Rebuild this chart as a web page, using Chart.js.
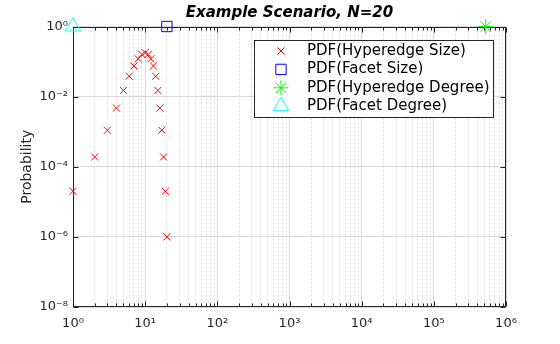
<!DOCTYPE html>
<html>
<head>
<meta charset="utf-8">
<script src="https://cdn.jsdelivr.net/npm/chart.js@4.4.0/dist/chart.umd.min.js"></script>
<style>
  html, body { margin: 0; padding: 0; background: #fff; }
</style>
</head>
<body>
<canvas id="graphe" width="560" height="344"></canvas>
<script>
// --- donnees ---
const sizeX = [1, 2, 3, 4, 5, 6, 7, 8, 9, 10, 11, 12, 13, 14, 15, 16, 17, 18, 19, 20];
const sizePdf = [2.0e-5, 1.9e-4, 1.1e-3, 4.7e-3, 1.5e-2, 3.8e-2, 7.5e-2, 0.12, 0.16, 0.18,
                 0.16, 0.12, 7.5e-2, 3.8e-2, 1.5e-2, 4.7e-3, 1.1e-3, 1.9e-4, 2.0e-5, 1.0e-6];
const facetSizeX = [20];
const facetSizePdf = [1];
const edgeDegreeX = [524288];
const edgeDegreePdf = [1];
const facetDegreeX = [1];
const facetDegreePdf = [1];

const xDecades = [1, 10, 100, 1000, 10000, 100000, 1000000];
const yDecades = [1e-8, 1e-6, 1e-4, 1e-2, 1];

const FONT = "'DejaVu Sans', sans-serif";
const INK = '#262626';

// graduations mineures 2..9 de chaque decade
const xMinor = [];
xDecades.slice(0, -1).forEach(d => {
    for (let m = 2; m <= 9; m++) xMinor.push(m * d);
});
const xAll = xDecades.concat(xMinor).sort((a, b) => a - b);

const sup = { '0': '⁰', '1': '¹', '2': '²', '3': '³', '4': '⁴', '5': '⁵', '6': '⁶', '7': '⁷', '8': '⁸', '9': '⁹', '-': '⁻' };
function powLabel(v) {
    const e = Math.round(Math.log10(v));
    return '10' + String(e).split('').map(c => sup[c]).join('');
}
const pts = (xs, ys) => xs.map((x, i) => ({ x: x, y: ys[i] }));

// cadre, petites graduations interieures et legende facon MATLAB
const cadre = {
    id: 'cadre',
    beforeDatasetsDraw(chart) {
        const { ctx, chartArea: a, scales } = chart;
        const L = Math.round(a.left) + 0.5, R = Math.round(a.right) - 0.5;
        const T = Math.round(a.top) + 0.5, B = Math.round(a.bottom) - 0.5;
        ctx.save();
        ctx.strokeStyle = INK;
        ctx.lineWidth = 1;
        ctx.beginPath();
        xAll.forEach(v => {
            const px = Math.round(scales.x.getPixelForValue(v)) + 0.5;
            const len = xDecades.includes(v) ? 5 : 3;
            ctx.moveTo(px, B); ctx.lineTo(px, B - len);
            ctx.moveTo(px, T); ctx.lineTo(px, T + len);
        });
        yDecades.forEach(v => {
            const py = Math.round(scales.y.getPixelForValue(v)) + 0.5;
            ctx.moveTo(L, py); ctx.lineTo(L + 5, py);
            ctx.moveTo(R, py); ctx.lineTo(R - 5, py);
        });
        ctx.stroke();
        ctx.strokeRect(L, T, R - L, B - T);
        ctx.restore();
    },
    afterDatasetsDraw(chart) {
        const ctx = chart.ctx;
        const bx = 254.5, by = 40.5, bw = 239, bh = 77;
        ctx.save();
        ctx.fillStyle = '#fff';
        ctx.fillRect(bx, by, bw, bh);
        ctx.strokeStyle = INK;
        ctx.lineWidth = 1;
        ctx.strokeRect(bx, by, bw, bh);
        chart.data.datasets.forEach((ds, i) => {
            const y = 51 + i * 18.4;
            ctx.fillStyle = ds.backgroundColor;
            ctx.strokeStyle = ds.borderColor;
            ctx.lineWidth = ds.borderWidth;
            Chart.helpers.drawPoint(ctx, { pointStyle: ds.pointStyle, radius: ds.pointRadius, borderWidth: ds.borderWidth, rotation: 0 }, 281, y);
            ctx.fillStyle = '#000';
            ctx.font = '15px ' + FONT;
            ctx.textBaseline = 'middle';
            ctx.textAlign = 'left';
            ctx.fillText(ds.label, 307, y);
        });
        ctx.restore();
    }
};

new Chart(document.getElementById('graphe'), {
    type: 'scatter',
    data: {
        datasets: [{
            label: 'PDF(Hyperedge Size)',
            data: pts(sizeX, sizePdf),
            pointStyle: 'crossRot',
            pointRadius: 5,
            borderColor: 'rgb(255,0,0)',
            backgroundColor: 'rgba(0,0,0,0)',
            borderWidth: 1,
            clip: false
        }, {
            label: 'PDF(Facet Size)',
            data: pts(facetSizeX, facetSizePdf),
            pointStyle: 'rect',
            pointRadius: 7.3,
            borderColor: 'rgb(0,0,255)',
            backgroundColor: 'rgba(0,0,0,0)',
            borderWidth: 1,
            clip: false
        }, {
            label: 'PDF(Hyperedge Degree)',
            data: pts(edgeDegreeX, edgeDegreePdf),
            pointStyle: 'star',
            pointRadius: 7.5,
            borderColor: 'rgb(0,255,0)',
            backgroundColor: 'rgba(0,0,0,0)',
            borderWidth: 1,
            clip: false
        }, {
            label: 'PDF(Facet Degree)',
            data: pts(facetDegreeX, facetDegreePdf),
            pointStyle: 'triangle',
            pointRadius: 9,
            borderColor: 'rgb(0,255,255)',
            backgroundColor: 'rgba(0,0,0,0)',
            borderWidth: 1,
            clip: false
        }]
    },
    options: {
        responsive: false,
        animation: false,
        devicePixelRatio: 1,
        layout: { padding: { left: 0, right: 54, top: 0, bottom: 0 } },
        plugins: {
            legend: { display: false },
            tooltip: { enabled: false },
            title: {
                display: true,
                text: 'Example Scenario, N=20',
                fullSize: false,
                color: '#000',
                font: { family: FONT, size: 15, weight: 'bold', style: 'italic', lineHeight: 1.1 },
                padding: { top: 5, bottom: 5 }
            }
        },
        scales: {
            x: {
                type: 'logarithmic',
                min: 1,
                max: 1e6,
                afterBuildTicks: s => { s.ticks = xAll.map(v => ({ value: v })); },
                afterFit: s => { s.height = 37; },
                ticks: {
                    autoSkip: false,
                    maxRotation: 0,
                    padding: 9,
                    color: INK,
                    font: { family: FONT, size: 13 },
                    callback: v => xDecades.includes(v) ? powLabel(v) : ''
                },
                grid: {
                    drawTicks: false,
                    color: c => xDecades.includes(c.tick.value) ? '#d9d9d9' : 'rgba(0,0,0,0)'
                },
                border: { display: false }
            },
            xMinor: {
                type: 'logarithmic',
                position: 'bottom',
                min: 1,
                max: 1e6,
                afterBuildTicks: s => { s.ticks = xMinor.map(v => ({ value: v })); },
                afterFit: s => { s.height = 0; },
                ticks: { display: false },
                grid: { drawTicks: false, color: '#dcdcdc' },
                border: { display: false, dash: [2, 2] }
            },
            y: {
                type: 'logarithmic',
                min: 1e-8,
                max: 1,
                afterBuildTicks: s => { s.ticks = yDecades.map(v => ({ value: v })); },
                afterFit: s => { s.width = 73; },
                ticks: {
                    padding: 5,
                    color: INK,
                    font: { family: FONT, size: 13 },
                    callback: v => powLabel(v)
                },
                grid: { drawTicks: false, color: '#d9d9d9' },
                border: { display: false },
                title: {
                    display: true,
                    text: 'Probability',
                    color: INK,
                    font: { family: FONT, size: 14 },
                    padding: { top: 19, bottom: 0 }
                }
            }
        }
    },
    plugins: [cadre]
});
</script>
</body>
</html>
